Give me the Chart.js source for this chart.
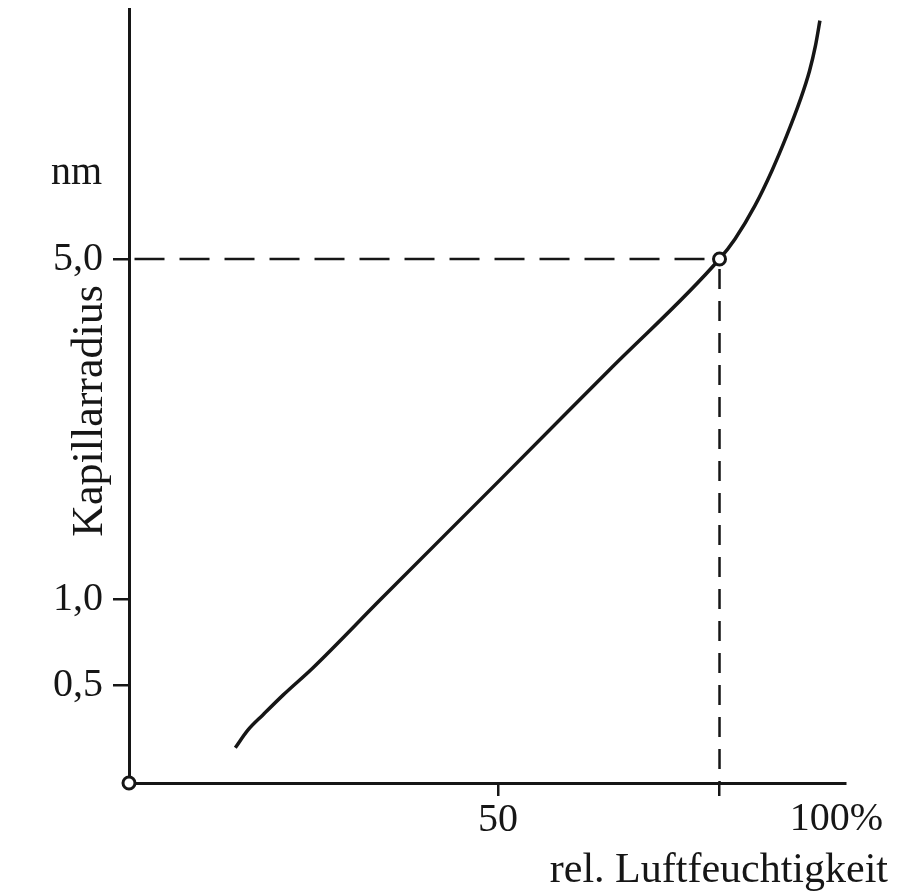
<!DOCTYPE html>
<html>
<head>
<meta charset="utf-8">
<script src="https://cdn.jsdelivr.net/npm/chart.js@4/dist/chart.umd.min.js"></script>
<style>
  html, body { margin: 0; padding: 0; background: #ffffff; }
  #wrap { width: 909px; height: 893px; }
</style>
</head>
<body>
<div id="wrap"><canvas id="c" width="909" height="893"></canvas></div>
<script>
// ---------- data ----------
const humidity = [14.4, 16.1, 18.2, 20.9, 24.9, 34.1, 50, 65, 80, 82.1, 84.8, 87.1, 89.1, 90.9, 92.2, 93.0, 93.6];
const radius   = [0.18, 0.27, 0.35, 0.45, 0.60, 1.0, 2.38, 3.69, 5.0, 5.24, 5.64, 6.06, 6.48, 6.90, 7.26, 7.56, 7.86];

const yTicks = [0.5, 1.0, 5.0];
const yTickLabels = ['0,5', '1,0', '5,0'];
const xTicks = [50, 80];
const xTickLabels = ['50', ''];
const xEndLabel = '100%';
const yUnit = 'nm';
const xTitle = 'rel. Luftfeuchtigkeit';
const yTitle = 'Kapillarradius';

const markedX = 80;   // %
const markedY = 5.0;  // nm
const originX = 0;
const originY = 0;

const xRange = [0, 97];
const yRange = [0, 8];
// the radius axis is schematic (non-uniform): knot values and their share of the axis height
const yAxisKnots = [0, 0.5, 1, 5, 8];
const yAxisKnotShare = [0, 0.1265, 0.2374, 0.677, 1];

// ---------- schematic scale ----------
function valueToShare(v) {
  const k = yAxisKnots, s = yAxisKnotShare;
  let i = 0;
  if (v <= k[0]) i = 0;
  else if (v >= k[k.length - 1]) i = k.length - 2;
  else { while (i < k.length - 2 && v > k[i + 1]) i++; }
  return s[i] + (v - k[i]) / (k[i + 1] - k[i]) * (s[i + 1] - s[i]);
}
function shareToValue(d) {
  const k = yAxisKnots, s = yAxisKnotShare;
  let i = 0;
  if (d <= s[0]) i = 0;
  else if (d >= s[s.length - 1]) i = s.length - 2;
  else { while (i < s.length - 2 && d > s[i + 1]) i++; }
  return k[i] + (d - s[i]) / (s[i + 1] - s[i]) * (k[i + 1] - k[i]);
}
class SchematicScale extends Chart.LinearScale {
  getPixelForValue(value) {
    if (value === null || value === undefined) return NaN;
    return this.getPixelForDecimal(valueToShare(value));
  }
  getValueForPixel(pixel) {
    return shareToValue(this.getDecimalForPixel(pixel));
  }
}
SchematicScale.id = 'schematic';
SchematicScale.defaults = Chart.LinearScale.defaults;
Chart.register(SchematicScale);

// ---------- styles ----------
const INK = '#161616';
const SERIF = '"Liberation Serif", "Times New Roman", "DejaVu Serif", serif';

const curve = humidity.map((h, i) => ({ x: h, y: radius[i] }));

const textPlugin = {
  id: 'schematicTexts',
  afterDraw(chart) {
    const ctx = chart.ctx;
    const ys = chart.scales.y;
    const area = chart.chartArea;
    ctx.save();
    ctx.fillStyle = INK;
    ctx.font = '40px ' + SERIF;
    ctx.textAlign = 'right';
    ctx.textBaseline = 'alphabetic';
    // unit above the top tick
    ctx.fillText(yUnit, area.left - 27, ys.getPixelForValue(yTicks[yTicks.length - 1]) - 75);
    // end label of the humidity axis
    ctx.fillText(xEndLabel, area.right + 38, area.bottom + 47);
    // axis titles
    ctx.font = '42px ' + SERIF;
    ctx.fillText(xTitle, area.right + 43, area.bottom + 99);
    ctx.font = '44px ' + SERIF;
    ctx.translate(area.left - 27, 411);
    ctx.rotate(-Math.PI / 2);
    ctx.textAlign = 'center';
    ctx.fillText(yTitle, 0, 0);
    ctx.restore();
  }
};

new Chart(document.getElementById('c'), {
  type: 'scatter',
  data: {
    datasets: [
      {
        label: 'marks',
        data: [{ x: originX, y: originY }, { x: markedX, y: markedY }],
        showLine: false,
        pointRadius: 6,
        pointBackgroundColor: '#ffffff',
        pointBorderColor: INK,
        pointBorderWidth: 3,
        clip: false
      },
      {
        label: 'Kapillarradius',
        data: curve,
        showLine: true,
        borderColor: INK,
        borderWidth: 3.5,
        pointRadius: 0,
        cubicInterpolationMode: 'monotone',
        fill: false
      },
      {
        label: 'guide-h',
        data: [{ x: markedX, y: markedY }, { x: originX, y: markedY }],
        showLine: true,
        borderColor: INK,
        borderWidth: 2.5,
        borderDash: [30, 15],
        borderDashOffset: 30,
        pointRadius: 0
      },
      {
        label: 'guide-v',
        data: [{ x: markedX, y: markedY }, { x: markedX, y: originY }],
        showLine: true,
        borderColor: INK,
        borderWidth: 2.5,
        borderDash: [20, 12],
        borderDashOffset: 22,
        pointRadius: 0
      }
    ]
  },
  options: {
    responsive: false,
    animation: false,
    devicePixelRatio: 1,
    layout: { padding: { left: 0, top: 8, right: 64, bottom: 0 } },
    plugins: { legend: { display: false }, tooltip: { enabled: false }, title: { display: false } },
    scales: {
      x: {
        type: 'linear',
        position: 'bottom',
        min: xRange[0],
        max: xRange[1],
        afterBuildTicks(scale) { scale.ticks = xTicks.map(v => ({ value: v })); },
        afterFit(scale) { scale.height = 110; scale.paddingLeft = 0; scale.paddingRight = 0; },
        ticks: {
          autoSkip: false,
          maxRotation: 0,
          padding: 0,
          color: INK,
          font: { family: SERIF, size: 40 },
          callback: (v) => { const i = xTicks.indexOf(v); return i >= 0 ? xTickLabels[i] : ''; }
        },
        grid: { drawOnChartArea: false, drawTicks: true, tickLength: 13, color: INK, lineWidth: 2.5 },
        border: { display: true, color: INK, width: 3 }
      },
      y: {
        type: 'schematic',
        position: 'left',
        min: yRange[0],
        max: yRange[1],
        afterBuildTicks(scale) { scale.ticks = yTicks.map(v => ({ value: v })); },
        afterFit(scale) { scale.width = 129; scale.paddingTop = 0; scale.paddingBottom = 0; },
        ticks: {
          autoSkip: false,
          padding: 10,
          color: INK,
          font: { family: SERIF, size: 40 },
          callback: (v) => { const i = yTicks.indexOf(v); return i >= 0 ? yTickLabels[i] : ''; }
        },
        grid: { drawOnChartArea: false, drawTicks: true, tickLength: 16, color: INK, lineWidth: 2.5 },
        border: { display: true, color: INK, width: 3 }
      }
    }
  },
  plugins: [textPlugin]
});
</script>
</body>
</html>
